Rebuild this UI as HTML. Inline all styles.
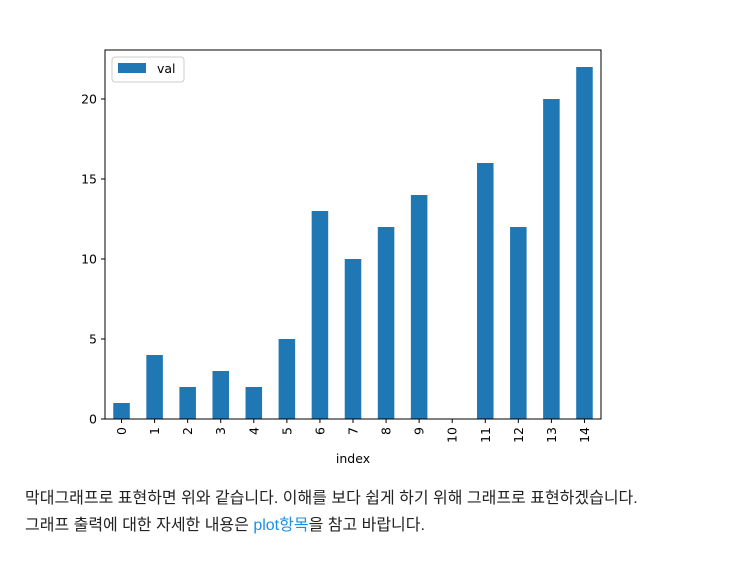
<!DOCTYPE html>
<html><head><meta charset="utf-8"><style>
body{margin:0;width:738px;height:580px;background:#fff;font-family:"Liberation Sans","DejaVu Sans",sans-serif;position:relative;overflow:hidden}
.t{position:absolute;left:25px;font-family:"Liberation Sans","Noto Sans CJK KR",sans-serif;font-size:16px;color:#222;white-space:nowrap}
a{color:#1a8fe0;text-decoration:none}
</style></head><body>
<svg id="chart" width="738" height="470" style="position:absolute;left:0;top:0" font-family="DejaVu Sans, sans-serif" font-size="12.5"></svg>
<div class="t" style="top:484px">막대그래프로 표현하면 위와 같습니다. 이해를 보다 쉽게 하기 위해 그래프로 표현하겠습니다.</div>
<div class="t" style="top:511px">그래프 출력에 대한 자세한 내용은 <a href="#">plot항목</a>을 참고 바랍니다.</div>
<script>
const categories=["0","1","2","3","4","5","6","7","8","9","10","11","12","13","14"];
const values=[1,4,2,3,2,5,13,10,12,14,0,16,12,20,22];
const yTicks=[0,5,10,15,20];
const NS="http://www.w3.org/2000/svg";
const svg=document.getElementById('chart');
const L=105,R=601,T=50,B=419;
const step=(R-L)/categories.length;
const xc=i=>L+step*(i+0.5);
const y=v=>B-v*16;
function mk(tag,a,p){const e=document.createElementNS(NS,tag);for(const k in a)e.setAttribute(k,a[k]);(p||svg).appendChild(e);return e;}
values.forEach((v,i)=>{
 const r=mk('rect',{x:xc(i)-step/4,y:y(v),width:step/2,height:B-y(v),fill:'#1f77b4'});
 
 
});
const frame=mk('rect',{x:L,y:T,width:R-L,height:B-T,fill:'none',stroke:'#000','stroke-width':1});


yTicks.forEach(t=>{
 mk('line',{x1:L-4,x2:L,y1:y(t),y2:y(t),stroke:'#000'});
 const tx=mk('text',{x:L-8,y:y(t)+4.5,'text-anchor':'end'});tx.textContent=t;
 
 
});
categories.forEach((c,i)=>{
 mk('line',{x1:xc(i),x2:xc(i),y1:B,y2:B+4,stroke:'#000'});
 const tx=mk('text',{transform:`translate(${xc(i)+4.5},${B+8}) rotate(-90)`,'text-anchor':'end'});tx.textContent=c;
 
 
});
const xt=mk('text',{x:(L+R)/2,y:463,'text-anchor':'middle'});xt.textContent='index';


const lg=mk('g',{});


mk('rect',{x:112,y:57,width:72,height:25,rx:3,fill:'#fff',stroke:'#ccc'},lg);
mk('rect',{x:118,y:63,width:28,height:10,fill:'#1f77b4'},lg);
const lt=mk('text',{x:157,y:73},lg);lt.textContent='val';
</script>
</body></html>
